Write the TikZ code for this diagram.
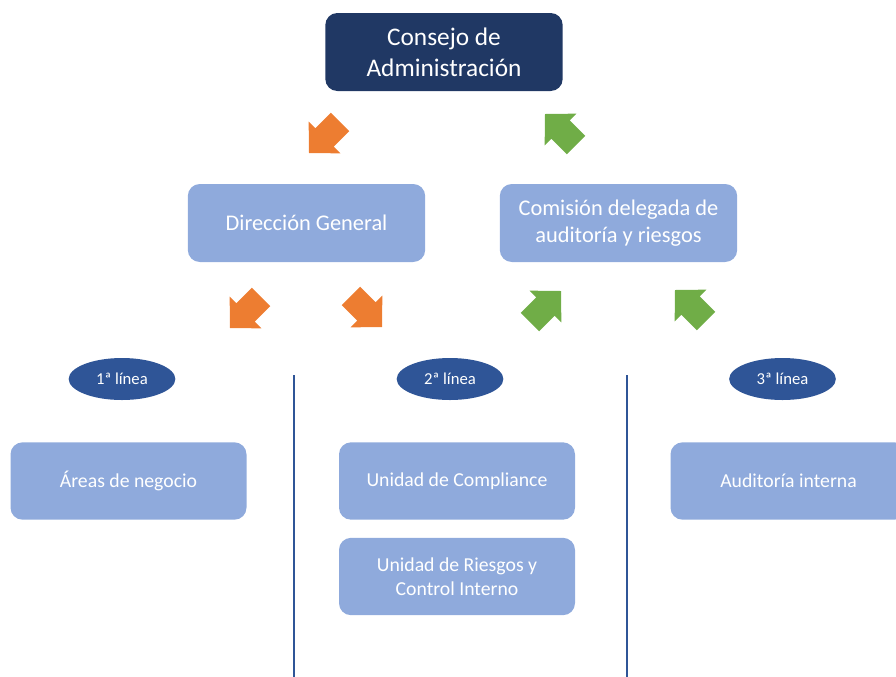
\documentclass[tikz,border=0pt]{standalone}
\usepackage{fontspec}
\setmainfont{Carlito}
\usetikzlibrary{shapes.geometric}
\definecolor{navy}{HTML}{203864}
\definecolor{lblue}{HTML}{8FAADC}
\definecolor{dblue}{HTML}{2F5597}
\definecolor{orng}{HTML}{ED7D31}
\definecolor{grn}{HTML}{70AD47}
\tikzset{
  topbox/.style={fill=navy, rounded corners=9pt, minimum width=178pt, minimum height=58.5pt, text=white, align=center, font=\fontsize{19}{23.3}\selectfont},
  midbox/.style={fill=lblue, rounded corners=9pt, minimum width=178pt, minimum height=58.5pt, text=white, align=center, font=\fontsize{16.8}{20.3}\selectfont},
  lowbox/.style={fill=lblue, rounded corners=9pt, minimum width=177pt, minimum height=58pt, text=white, align=center, font=\fontsize{14.8}{18}\selectfont},
  lineoval/.style={ellipse, fill=dblue, minimum width=80pt, minimum height=31.5pt, inner sep=0pt, text=white, font=\fontsize{12.5}{14}\selectfont},
  sepline/.style={draw=dblue, line width=2.2pt},
  barrow/.pic={\fill[pic actions] (0,0) -- (-22,22.5) -- (-22,13) -- (-44,13) -- (-44,-13) -- (-22,-13) -- (-22,-22.5) -- cycle;}
}
\begin{document}
\begin{tikzpicture}[x=0.75pt,y=-0.75pt]
\useasboundingbox (0,0) rectangle (896,676);
\clip (0,0) rectangle (896,676);
\node[topbox] (cons) at (444,52) {Consejo de\\Administración};
\node[midbox] (dir) at (306.5,223) {Dirección General};
\node[midbox] (com) at (618.5,223) {Comisión delegada de\\auditoría y riesgos};
\node[lineoval] (l1) at (122,379) {1ª línea};
\node[lineoval] (l2) at (450,379) {2ª línea};
\node[lineoval] (l3) at (782.5,379) {3ª línea};
\node[lowbox] (areas) at (128.5,481) {Áreas de negocio};
\node[lowbox] (compl) at (457,481) {Unidad de Compliance};
\node[lowbox] (ries) at (457,576.5) {Unidad de Riesgos y\\Control Interno};
\node[lowbox] (audi) at (788.5,481) {Auditoría interna};
\coordinate (s1t) at (294,375); \coordinate (s1b) at (294,680);
\coordinate (s2t) at (627,375); \coordinate (s2b) at (627,680);
\draw[sepline] (s1t) -- (s1b);
\draw[sepline] (s2t) -- (s2b);
\pic[fill=orng, rotate=225] at (309,153) {barrow};
\pic[fill=orng, rotate=225] at (230,328) {barrow};
\pic[fill=orng, rotate=315] at (382,327) {barrow};
\pic[fill=grn, rotate=135] at (545,114) {barrow};
\pic[fill=grn, rotate=45] at (561,291) {barrow};
\pic[fill=grn, rotate=135] at (675,290) {barrow};
\end{tikzpicture}
\end{document}
